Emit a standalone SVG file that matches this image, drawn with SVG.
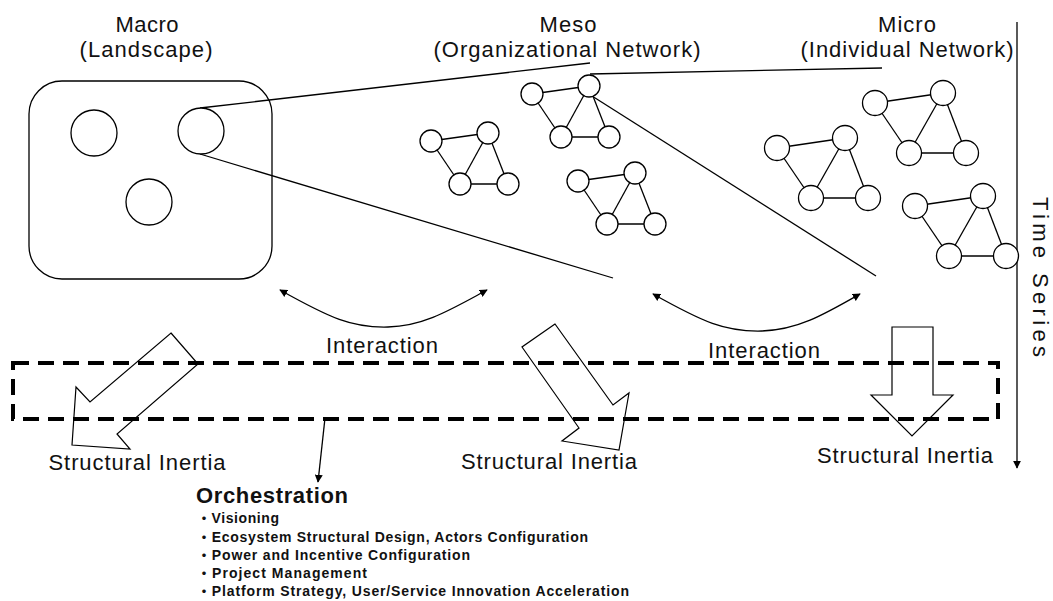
<svg xmlns="http://www.w3.org/2000/svg" width="1053" height="601" viewBox="0 0 1053 601">
<style>
.t{font-family:"Liberation Sans","Noto Sans CJK JP",sans-serif;font-size:22px;fill:#111}
.b{font-family:"Liberation Sans","Noto Sans CJK JP",sans-serif;font-weight:bold;fill:#111}
.ln{fill:none;stroke:#000;stroke-width:1.3}
.nd{fill:#fff;stroke:#000;stroke-width:1.3}
.blk{fill:none;stroke:#000;stroke-width:1.2;stroke-linejoin:miter}
</style>
<defs>
<marker id="ah" viewBox="0 0 10 10" refX="9" refY="5" markerWidth="8" markerHeight="8" markerUnits="userSpaceOnUse" orient="auto-start-reverse">
<path d="M0,0 L10,5 L0,10 z" fill="#000"/>
</marker>
<g id="mesoNet">
<line class="ln" x1="0" y1="0" x2="57" y2="-8"/>
<line class="ln" x1="0" y1="0" x2="29" y2="43"/>
<line class="ln" x1="57" y1="-8" x2="29" y2="43"/>
<line class="ln" x1="57" y1="-8" x2="77" y2="43"/>
<line class="ln" x1="29" y1="43" x2="77" y2="43"/>
<circle class="nd" cx="0" cy="0" r="11"/>
<circle class="nd" cx="57" cy="-8" r="11"/>
<circle class="nd" cx="29" cy="43" r="11"/>
<circle class="nd" cx="77" cy="43" r="11"/>
</g>
<g id="microNet">
<line class="ln" x1="0" y1="0" x2="68" y2="-10"/>
<line class="ln" x1="0" y1="0" x2="34" y2="50"/>
<line class="ln" x1="68" y1="-10" x2="34" y2="50"/>
<line class="ln" x1="68" y1="-10" x2="91" y2="50"/>
<line class="ln" x1="34" y1="50" x2="91" y2="50"/>
<circle class="nd" cx="0" cy="0" r="12.5"/>
<circle class="nd" cx="68" cy="-10" r="12.5"/>
<circle class="nd" cx="34" cy="50" r="12.5"/>
<circle class="nd" cx="91" cy="50" r="12.5"/>
</g>
</defs>
<rect width="1053" height="601" fill="#fff"/>

<g id="labels">
<text class="t" x="147" y="32" text-anchor="middle" textLength="63">Macro</text>
<text class="t" x="146" y="57" text-anchor="middle" textLength="133">(Landscape)</text>
<text class="t" x="568" y="32" text-anchor="middle" textLength="57">Meso</text>
<text class="t" x="567" y="57" text-anchor="middle" textLength="267">(Organizational Network)</text>
<text class="t" x="907" y="32" text-anchor="middle" textLength="58">Micro</text>
<text class="t" x="907" y="57" text-anchor="middle" textLength="213">(Individual Network)</text>
</g>

<g id="connectors">
<line class="ln" x1="200" y1="108" x2="590" y2="63"/>
<line class="ln" x1="200" y1="154" x2="613" y2="278"/>
<line class="ln" x1="590" y1="74" x2="882" y2="68"/>
<line class="ln" x1="592" y1="96" x2="876" y2="276"/>
<path class="ln" d="M280,290 C330,318 352,328 388,327 C424,326 450,310 487,290" marker-start="url(#ah)" marker-end="url(#ah)"/>
<path class="ln" d="M653,294 C703,322 725,332 762,331 C798,330 825,314 860,294" marker-start="url(#ah)" marker-end="url(#ah)"/>
<line class="ln" x1="325" y1="418" x2="318" y2="482" marker-end="url(#ah)"/>
<line class="ln" x1="1017" y1="22" x2="1017" y2="468" marker-end="url(#ah)"/>
</g>

<g id="macro">
<rect class="ln" x="29" y="81" width="243" height="198" rx="33" ry="33"/>
<circle class="nd" cx="94" cy="133" r="23"/>
<circle class="nd" cx="201" cy="131" r="23"/>
<circle class="nd" cx="149" cy="202" r="23"/>
</g>

<g id="meso">
<use href="#mesoNet" x="431" y="141"/>
<use href="#mesoNet" x="532" y="94"/>
<use href="#mesoNet" x="578" y="181"/>
</g>

<g id="micro">
<use href="#microNet" x="875" y="103"/>
<use href="#microNet" x="777" y="148"/>
<use href="#microNet" x="915" y="206"/>
</g>

<g id="interaction-labels">
<text class="t" x="382" y="353" text-anchor="middle" textLength="112">Interaction</text>
<text class="t" x="764" y="358" text-anchor="middle" textLength="112">Interaction</text>
</g>

<g id="orchestration-band">
<rect x="13" y="363" width="985" height="56" fill="none" stroke="#000" stroke-width="4" stroke-dasharray="16 9"/>
</g>

<g id="inertia-macro">
<polygon class="blk" points="171,333 198,364 117,434 130,449 72,445 76,387 90,402"/>
<text class="t" x="137" y="470" text-anchor="middle" textLength="177">Structural Inertia</text>
</g>
<g id="inertia-meso">
<polygon class="blk" points="555,324 522,347 579,428 562,441 619,450 629,393 613,405"/>
<text class="t" x="549" y="469" text-anchor="middle" textLength="176">Structural Inertia</text>
</g>
<g id="inertia-micro">
<polygon class="blk" points="892,327 933,327 933,395 953,395 912,436 871,395 892,395"/>
<text class="t" x="905" y="463" text-anchor="middle" textLength="176">Structural Inertia</text>
</g>

<g id="time-series">
<text class="t" transform="translate(1033,277) rotate(90)" x="0" y="0" text-anchor="middle" font-size="25" textLength="160">Time Series</text>
</g>

<g id="orchestration">
<text class="b" x="196" y="503" font-size="22" textLength="152">Orchestration</text>
<text class="b" x="197" y="523" font-size="14" textLength="82">・Visioning</text>
<text class="b" x="197" y="542" font-size="14" textLength="391">・Ecosystem Structural Design, Actors Configuration</text>
<text class="b" x="197" y="560" font-size="14" textLength="273">・Power and Incentive Configuration</text>
<text class="b" x="197" y="578" font-size="14" textLength="170">・Project Management</text>
<text class="b" x="197" y="596" font-size="14" textLength="432">・Platform Strategy, User/Service Innovation Acceleration</text>
</g>
</svg>
